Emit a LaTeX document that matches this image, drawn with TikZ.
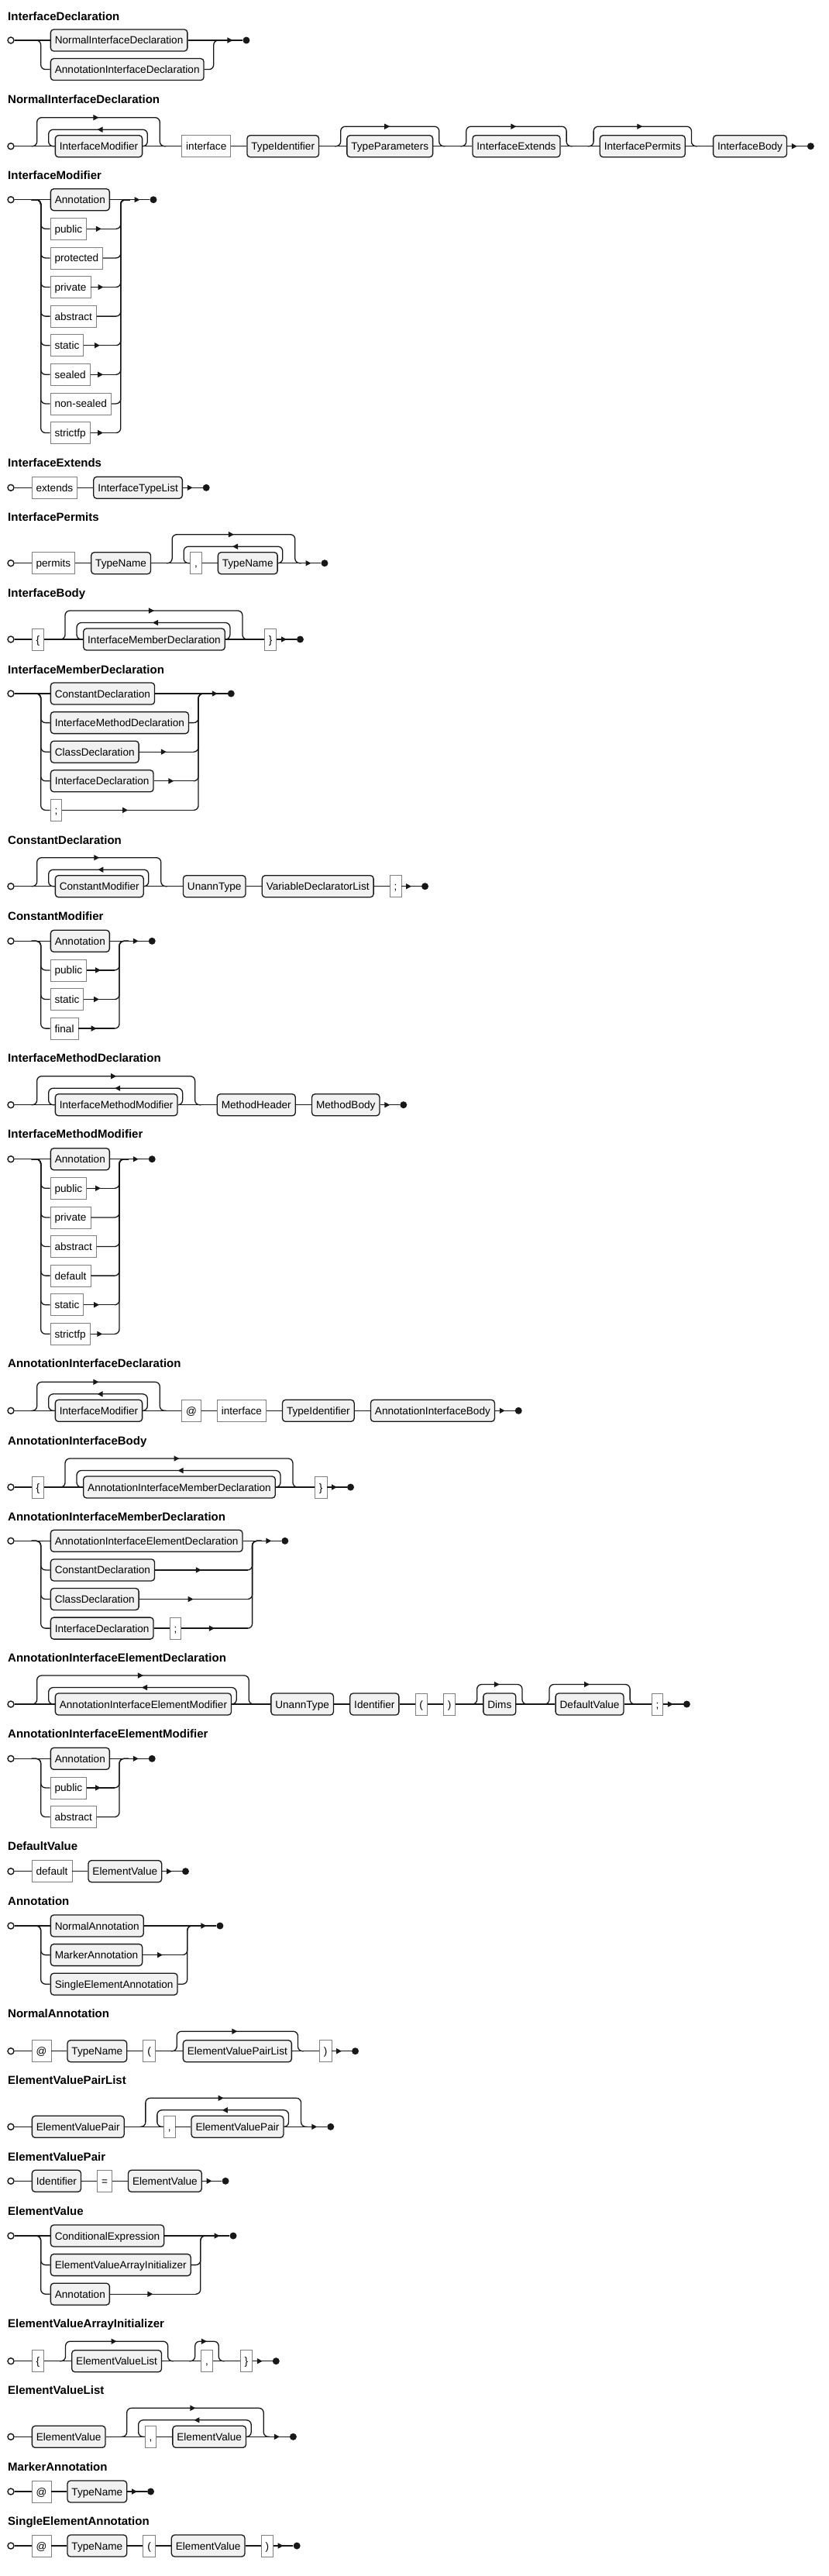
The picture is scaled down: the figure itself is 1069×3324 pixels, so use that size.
\documentclass[tikz,border=0pt]{standalone}
\usepackage{fontspec}
\setmainfont{Liberation Sans}
\usetikzlibrary{positioning,arrows.meta,decorations.markings}

\definecolor{linec}{HTML}{181818}
\definecolor{ntfill}{HTML}{F1F1F1}
\definecolor{tmline}{HTML}{808080}

\tikzset{
  nt/.style={draw=linec, fill=ntfill, rounded corners=4pt, line width=1.3pt,
    minimum height=28pt, inner xsep=5.5pt, inner ysep=0pt,
    text height=12pt, text depth=2pt, font=\fontsize{13.6pt}{16pt}\selectfont},
  tm/.style={nt, draw=tmline, fill=white, sharp corners, line width=0.8pt},
  wire/.style={color=linec, line width=1.3pt, rounded corners=6pt},
  midarrow/.style={postaction={decorate}, decoration={markings,
    mark=at position 0.5 with {\pgfsetcornersarced{\pgfpointorigin}\arrow{Triangle[length=7pt,width=7pt]}}}},
  sc/.style={circle, draw=linec, fill=white, line width=1.4pt, minimum size=8pt, inner sep=0pt},
  ec/.style={circle, fill=linec, minimum size=9pt, inner sep=0pt},
  ttl/.style={anchor=base west, inner sep=0pt, font=\bfseries\fontsize{15pt}{18pt}\selectfont}
}

% choice branch: from split #1 down into box #2
\newcommand{\chin}[2]{\draw[wire] (#1) -| ([xshift=-12pt]#2.west) -- (#2.west);}
% choice branch: from box #2 back up to join #1
\newcommand{\chout}[2]{\draw[wire] (#2.east) -| ([xshift=-12pt]#1) -- (#1);}
% same, with an arrow on the way
\newcommand{\choutarr}[2]{%
  \draw[wire, midarrow] (#2.east) -- ([xshift=-18pt]#2.east -| #1);
  \draw[wire] ([xshift=-18pt]#2.east -| #1) -| ([xshift=-12pt]#1) -- (#1);}
% optional part #1..#2
\newcommand{\optover}[2]{%
  \draw[wire, midarrow] ([xshift=-15pt]#1.west) -- ++(7.5,0) -- ++(0,25.5)
    -| ([xshift=7.5pt]#2.east) -- ++(7.5,0);}
% zero or more of #1..#2
\newcommand{\loopover}[2]{%
  \draw[wire, midarrow] ([xshift=-30pt]#1.west) -- ++(7,0) -- ++(0,37)
    -| ([xshift=22pt]#2.east) -- ++(8,0);
  \draw[wire, midarrow] (#2.east) -- ++(6,0) -- ++(0,21.5)
    -| ([xshift=-8pt]#1.west) -- (#1.west);}

\begin{document}
\begin{tikzpicture}[x=1pt,y=1pt]
  \useasboundingbox (0,0) rectangle (1069,-3324);

  % InterfaceDeclaration
  \node[ttl] (idT) at (10,-26.1) {InterfaceDeclaration};
  \node[sc] (idS) at (14,-52) {};
  \node[nt, right=46pt of idS] (ida) {NormalInterfaceDeclaration};
  \node[nt, anchor=west] (idb) at ([yshift=-37.6pt]ida.west) {AnnotationInterfaceDeclaration};
  \coordinate (idP) at ([xshift=-24pt]ida.west);
  \coordinate (idJ) at ([xshift=24pt]idb.east |- ida.east);
  \node[ec, right=25.5pt of idJ] (idE) {};
  \draw[wire] (idS) -- (ida) -- (idJ);
  \draw[wire, midarrow] (idJ) -- (idE);
  \chin{idP}{idb} \chout{idJ}{idb}

  % NormalInterfaceDeclaration
  \node[ttl] (nidT) at (10,-133.1) {NormalInterfaceDeclaration};
  \node[sc] (nidS) at (14,-188.7) {};
  \node[nt, right=52pt of nidS] (nida) {InterfaceModifier};
  \node[tm, right=50pt of nida] (nidb) {interface};
  \node[nt, right=20pt of nidb] (nidc) {TypeIdentifier};
  \node[nt, right=35pt of nidc] (nidd) {TypeParameters};
  \node[nt, right=50pt of nidd] (nide) {InterfaceExtends};
  \node[nt, right=50pt of nide] (nidf) {InterfacePermits};
  \node[nt, right=35pt of nidf] (nidg) {InterfaceBody};
  \node[ec, right=25.5pt of nidg] (nidE) {};
  \draw[wire] (nidS) -- (nida) -- (nidb) -- (nidc) -- (nidd) -- (nide) -- (nidf) -- (nidg);
  \draw[wire, midarrow] (nidg) -- (nidE);
  \loopover{nida}{nida}
  \optover{nidd}{nidd} \optover{nide}{nide} \optover{nidf}{nidf}

  % InterfaceModifier
  \node[ttl] (imT) at (10,-231.4) {InterfaceModifier};
  \node[sc] (imS) at (14,-257.7) {};
  \node[nt, right=46pt of imS] (ima) {Annotation};
  \node[tm, anchor=west] (imb) at ([yshift=-37.6pt]ima.west) {public};
  \node[tm, anchor=west] (imc) at ([yshift=-37.6pt]imb.west) {protected};
  \node[tm, anchor=west] (imd) at ([yshift=-37.6pt]imc.west) {private};
  \node[tm, anchor=west] (ime) at ([yshift=-37.6pt]imd.west) {abstract};
  \node[tm, anchor=west] (imf) at ([yshift=-37.6pt]ime.west) {static};
  \node[tm, anchor=west] (img) at ([yshift=-37.6pt]imf.west) {sealed};
  \node[tm, anchor=west] (imh) at ([yshift=-37.6pt]img.west) {non-sealed};
  \node[tm, anchor=west] (imi) at ([yshift=-37.6pt]imh.west) {strictfp};
  \coordinate (imP) at ([xshift=-24pt]ima.west);
  \coordinate (imJ) at ([xshift=24pt]imh.east |- ima.east);
  \node[ec, right=25.5pt of imJ] (imE) {};
  \draw[wire] (imS) -- (ima) -- (imJ);
  \draw[wire, midarrow] (imJ) -- (imE);
  \chin{imP}{imb} \choutarr{imJ}{imb}
  \chin{imP}{imc} \chout{imJ}{imc}
  \chin{imP}{imd} \choutarr{imJ}{imd}
  \chin{imP}{ime} \chout{imJ}{ime}
  \chin{imP}{imf} \choutarr{imJ}{imf}
  \chin{imP}{img} \choutarr{imJ}{img}
  \chin{imP}{imh} \chout{imJ}{imh}
  \chin{imP}{imi} \choutarr{imJ}{imi}

  % InterfaceExtends
  \node[ttl] (ieT) at (10,-602.1) {InterfaceExtends};
  \node[sc] (ieS) at (14,-629.3) {};
  \node[tm, right=22pt of ieS] (iea) {extends};
  \node[nt, right=20pt of iea] (ieb) {InterfaceTypeList};
  \node[ec, right=25.5pt of ieb] (ieE) {};
  \draw[wire] (ieS) -- (iea) -- (ieb);
  \draw[wire, midarrow] (ieb) -- (ieE);

  % InterfacePermits
  \node[ttl] (ipT) at (10,-672.7) {InterfacePermits};
  \node[sc] (ipS) at (14,-726.7) {};
  \node[tm, right=22pt of ipS] (ipa) {permits};
  \node[nt, right=20pt of ipa] (ipb) {TypeName};
  \node[tm, right=50pt of ipb] (ipc) {,};
  \node[nt, right=20pt of ipc] (ipd) {TypeName};
  \coordinate[right=30pt of ipd] (ipJ);
  \node[ec, right=25.5pt of ipJ] (ipE) {};
  \draw[wire] (ipS) -- (ipa) -- (ipb) -- (ipc) -- (ipd) -- (ipJ);
  \draw[wire, midarrow] (ipJ) -- (ipE);
  \loopover{ipc}{ipd}

  % InterfaceBody
  \node[ttl] (ibT) at (10,-770.4) {InterfaceBody};
  \node[sc] (ibS) at (14,-825) {};
  \node[tm, right=22pt of ibS] (iba) {\{};
  \node[nt, right=50pt of iba] (ibb) {InterfaceMemberDeclaration};
  \node[tm, right=50pt of ibb] (ibc) {\}};
  \node[ec, right=25.5pt of ibc] (ibE) {};
  \draw[wire] (ibS) -- (iba) -- (ibb) -- (ibc);
  \draw[wire, midarrow] (ibc) -- (ibE);
  \loopover{ibb}{ibb}

  % InterfaceMemberDeclaration
  \node[ttl] (imdT) at (10,-869.4) {InterfaceMemberDeclaration};
  \node[sc] (imdS) at (14,-895) {};
  \node[nt, right=46pt of imdS] (imda) {ConstantDeclaration};
  \node[nt, anchor=west] (imdb) at ([yshift=-37.6pt]imda.west) {InterfaceMethodDeclaration};
  \node[nt, anchor=west] (imdc) at ([yshift=-37.6pt]imdb.west) {ClassDeclaration};
  \node[nt, anchor=west] (imdd) at ([yshift=-37.6pt]imdc.west) {InterfaceDeclaration};
  \node[tm, anchor=west] (imde) at ([yshift=-37.6pt]imdd.west) {;};
  \coordinate (imdP) at ([xshift=-24pt]imda.west);
  \coordinate (imdJ) at ([xshift=24pt]imdb.east |- imda.east);
  \node[ec, right=25.5pt of imdJ] (imdE) {};
  \draw[wire] (imdS) -- (imda) -- (imdJ);
  \draw[wire, midarrow] (imdJ) -- (imdE);
  \chin{imdP}{imdb} \chout{imdJ}{imdb}
  \chin{imdP}{imdc} \choutarr{imdJ}{imdc}
  \chin{imdP}{imdd} \choutarr{imdJ}{imdd}
  \chin{imdP}{imde} \choutarr{imdJ}{imde}

  % ConstantDeclaration
  \node[ttl] (cdT) at (10,-1089.4) {ConstantDeclaration};
  \node[sc] (cdS) at (14,-1143.7) {};
  \node[nt, right=52pt of cdS] (cda) {ConstantModifier};
  \node[nt, right=50pt of cda] (cdb) {UnannType};
  \node[nt, right=20pt of cdb] (cdc) {VariableDeclaratorList};
  \node[tm, right=20pt of cdc] (cdd) {;};
  \node[ec, right=25.5pt of cdd] (cdE) {};
  \draw[wire] (cdS) -- (cda) -- (cdb) -- (cdc) -- (cdd);
  \draw[wire, midarrow] (cdd) -- (cdE);
  \loopover{cda}{cda}

  % ConstantModifier
  \node[ttl] (cmT) at (10,-1187.1) {ConstantModifier};
  \node[sc] (cmS) at (14,-1214.3) {};
  \node[nt, right=46pt of cmS] (cma) {Annotation};
  \node[tm, anchor=west] (cmb) at ([yshift=-37.6pt]cma.west) {public};
  \node[tm, anchor=west] (cmc) at ([yshift=-37.6pt]cmb.west) {static};
  \node[tm, anchor=west] (cmd) at ([yshift=-37.6pt]cmc.west) {final};
  \coordinate (cmP) at ([xshift=-24pt]cma.west);
  \coordinate (cmJ) at ([xshift=24pt]cma.east);
  \node[ec, right=25.5pt of cmJ] (cmE) {};
  \draw[wire] (cmS) -- (cma) -- (cmJ);
  \draw[wire, midarrow] (cmJ) -- (cmE);
  \chin{cmP}{cmb} \choutarr{cmJ}{cmb}
  \chin{cmP}{cmc} \choutarr{cmJ}{cmc}
  \chin{cmP}{cmd} \choutarr{cmJ}{cmd}

  % InterfaceMethodDeclaration
  \node[ttl] (mdT) at (10,-1370.4) {InterfaceMethodDeclaration};
  \node[sc] (mdS) at (14,-1425.7) {};
  \node[nt, right=52pt of mdS] (mda) {InterfaceMethodModifier};
  \node[nt, right=50pt of mda] (mdb) {MethodHeader};
  \node[nt, right=20pt of mdb] (mdc) {MethodBody};
  \node[ec, right=25.5pt of mdc] (mdE) {};
  \draw[wire] (mdS) -- (mda) -- (mdb) -- (mdc);
  \draw[wire, midarrow] (mdc) -- (mdE);
  \loopover{mda}{mda}

  % InterfaceMethodModifier
  \node[ttl] (mmT) at (10,-1468.7) {InterfaceMethodModifier};
  \node[sc] (mmS) at (14,-1495.7) {};
  \node[nt, right=46pt of mmS] (mma) {Annotation};
  \node[tm, anchor=west] (mmb) at ([yshift=-37.6pt]mma.west) {public};
  \node[tm, anchor=west] (mmc) at ([yshift=-37.6pt]mmb.west) {private};
  \node[tm, anchor=west] (mmd) at ([yshift=-37.6pt]mmc.west) {abstract};
  \node[tm, anchor=west] (mme) at ([yshift=-37.6pt]mmd.west) {default};
  \node[tm, anchor=west] (mmf) at ([yshift=-37.6pt]mme.west) {static};
  \node[tm, anchor=west] (mmg) at ([yshift=-37.6pt]mmf.west) {strictfp};
  \coordinate (mmP) at ([xshift=-24pt]mma.west);
  \coordinate (mmJ) at ([xshift=24pt]mma.east);
  \node[ec, right=25.5pt of mmJ] (mmE) {};
  \draw[wire] (mmS) -- (mma) -- (mmJ);
  \draw[wire, midarrow] (mmJ) -- (mmE);
  \chin{mmP}{mmb} \choutarr{mmJ}{mmb}
  \chin{mmP}{mmc} \chout{mmJ}{mmc}
  \chin{mmP}{mmd} \chout{mmJ}{mmd}
  \chin{mmP}{mme} \chout{mmJ}{mme}
  \chin{mmP}{mmf} \choutarr{mmJ}{mmf}
  \chin{mmP}{mmg} \choutarr{mmJ}{mmg}

  % AnnotationInterfaceDeclaration
  \node[ttl] (aidT) at (10,-1764.7) {AnnotationInterfaceDeclaration};
  \node[sc] (aidS) at (14,-1820.3) {};
  \node[nt, right=52pt of aidS] (aida) {InterfaceModifier};
  \node[tm, right=50pt of aida] (aidb) {@};
  \node[tm, right=20pt of aidb] (aidc) {interface};
  \node[nt, right=20pt of aidc] (aidd) {TypeIdentifier};
  \node[nt, right=20pt of aidd] (aide) {AnnotationInterfaceBody};
  \node[ec, right=25.5pt of aide] (aidE) {};
  \draw[wire] (aidS) -- (aida) -- (aidb) -- (aidc) -- (aidd) -- (aide);
  \draw[wire, midarrow] (aide) -- (aidE);
  \loopover{aida}{aida}

  % AnnotationInterfaceBody
  \node[ttl] (aibT) at (10,-1864.4) {AnnotationInterfaceBody};
  \node[sc] (aibS) at (14,-1919) {};
  \node[tm, right=22pt of aibS] (aiba) {\{};
  \node[nt, right=50pt of aiba] (aibb) {AnnotationInterfaceMemberDeclaration};
  \node[tm, right=50pt of aibb] (aibc) {\}};
  \node[ec, right=25.5pt of aibc] (aibE) {};
  \draw[wire] (aibS) -- (aiba) -- (aibb) -- (aibc);
  \draw[wire, midarrow] (aibc) -- (aibE);
  \loopover{aibb}{aibb}

  % AnnotationInterfaceMemberDeclaration
  \node[ttl] (aimT) at (10,-1962.1) {AnnotationInterfaceMemberDeclaration};
  \node[sc] (aimS) at (14,-1988.3) {};
  \node[nt, right=46pt of aimS] (aima) {AnnotationInterfaceElementDeclaration};
  \node[nt, anchor=west] (aimb) at ([yshift=-37.6pt]aima.west) {ConstantDeclaration};
  \node[nt, anchor=west] (aimc) at ([yshift=-37.6pt]aimb.west) {ClassDeclaration};
  \node[nt, anchor=west] (aimd) at ([yshift=-37.6pt]aimc.west) {InterfaceDeclaration};
  \node[tm, right=20pt of aimd] (aime) {;};
  \coordinate (aimP) at ([xshift=-24pt]aima.west);
  \coordinate (aimJ) at ([xshift=24pt]aima.east);
  \node[ec, right=25.5pt of aimJ] (aimE) {};
  \draw[wire] (aimS) -- (aima) -- (aimJ);
  \draw[wire, midarrow] (aimJ) -- (aimE);
  \chin{aimP}{aimb} \choutarr{aimJ}{aimb}
  \chin{aimP}{aimc} \choutarr{aimJ}{aimc}
  \chin{aimP}{aimd} \draw[wire] (aimd) -- (aime); \choutarr{aimJ}{aime}

  % AnnotationInterfaceElementDeclaration
  \node[ttl] (aedT) at (10,-2144.7) {AnnotationInterfaceElementDeclaration};
  \node[sc] (aedS) at (14,-2199) {};
  \node[nt, right=52pt of aedS] (aeda) {AnnotationInterfaceElementModifier};
  \node[nt, right=50pt of aeda] (aedb) {UnannType};
  \node[nt, right=20pt of aedb] (aedc) {Identifier};
  \node[tm, right=20pt of aedc] (aedd) {(};
  \node[tm, right=20pt of aedd] (aede) {)};
  \node[nt, right=35pt of aede] (aedf) {Dims};
  \node[nt, right=50pt of aedf] (aedg) {DefaultValue};
  \node[tm, right=35pt of aedg] (aedh) {;};
  \node[ec, right=25.5pt of aedh] (aedE) {};
  \draw[wire] (aedS) -- (aeda) -- (aedb) -- (aedc) -- (aedd) -- (aede) -- (aedf) -- (aedg) -- (aedh);
  \draw[wire, midarrow] (aedh) -- (aedE);
  \loopover{aeda}{aeda}
  \optover{aedf}{aedf} \optover{aedg}{aedg}

  % AnnotationInterfaceElementModifier
  \node[ttl] (aemT) at (10,-2242.7) {AnnotationInterfaceElementModifier};
  \node[sc] (aemS) at (14,-2269.3) {};
  \node[nt, right=46pt of aemS] (aema) {Annotation};
  \node[tm, anchor=west] (aemb) at ([yshift=-37.6pt]aema.west) {public};
  \node[tm, anchor=west] (aemc) at ([yshift=-37.6pt]aemb.west) {abstract};
  \coordinate (aemP) at ([xshift=-24pt]aema.west);
  \coordinate (aemJ) at ([xshift=24pt]aema.east);
  \node[ec, right=25.5pt of aemJ] (aemE) {};
  \draw[wire] (aemS) -- (aema) -- (aemJ);
  \draw[wire, midarrow] (aemJ) -- (aemE);
  \chin{aemP}{aemb} \choutarr{aemJ}{aemb}
  \chin{aemP}{aemc} \chout{aemJ}{aemc}

  % DefaultValue
  \node[ttl] (dvT) at (10,-2387.7) {DefaultValue};
  \node[sc] (dvS) at (14,-2414.7) {};
  \node[tm, right=22pt of dvS] (dva) {default};
  \node[nt, right=20pt of dva] (dvb) {ElementValue};
  \node[ec, right=25.5pt of dvb] (dvE) {};
  \draw[wire] (dvS) -- (dva) -- (dvb);
  \draw[wire, midarrow] (dvb) -- (dvE);

  % Annotation
  \node[ttl] (anT) at (10,-2458.1) {Annotation};
  \node[sc] (anS) at (14,-2485) {};
  \node[nt, right=46pt of anS] (ana) {NormalAnnotation};
  \node[nt, anchor=west] (anb) at ([yshift=-37.6pt]ana.west) {MarkerAnnotation};
  \node[nt, anchor=west] (anc) at ([yshift=-37.6pt]anb.west) {SingleElementAnnotation};
  \coordinate (anP) at ([xshift=-24pt]ana.west);
  \coordinate (anJ) at ([xshift=24pt]anc.east |- ana.east);
  \node[ec, right=25.5pt of anJ] (anE) {};
  \draw[wire] (anS) -- (ana) -- (anJ);
  \draw[wire, midarrow] (anJ) -- (anE);
  \chin{anP}{anb} \choutarr{anJ}{anb}
  \chin{anP}{anc} \chout{anJ}{anc}

  % NormalAnnotation
  \node[ttl] (naT) at (10,-2603.7) {NormalAnnotation};
  \node[sc] (naS) at (14,-2646.7) {};
  \node[tm, right=22pt of naS] (naa) {@};
  \node[nt, right=20pt of naa] (nab) {TypeName};
  \node[tm, right=20pt of nab] (nac) {(};
  \node[nt, right=35pt of nac] (nad) {ElementValuePairList};
  \node[tm, right=35pt of nad] (nae) {)};
  \node[ec, right=25.5pt of nae] (naE) {};
  \draw[wire] (naS) -- (naa) -- (nab) -- (nac) -- (nad) -- (nae);
  \draw[wire, midarrow] (nae) -- (naE);
  \optover{nad}{nad}

  % ElementValuePairList
  \node[ttl] (vplT) at (10,-2689.4) {ElementValuePairList};
  \node[sc] (vplS) at (14,-2744.3) {};
  \node[nt, right=22pt of vplS] (vpla) {ElementValuePair};
  \node[tm, right=50pt of vpla] (vplb) {,};
  \node[nt, right=20pt of vplb] (vplc) {ElementValuePair};
  \coordinate[right=30pt of vplc] (vplJ);
  \node[ec, right=25.5pt of vplJ] (vplE) {};
  \draw[wire] (vplS) -- (vpla) -- (vplb) -- (vplc) -- (vplJ);
  \draw[wire, midarrow] (vplJ) -- (vplE);
  \loopover{vplb}{vplc}

  % ElementValuePair
  \node[ttl] (vpT) at (10,-2788.1) {ElementValuePair};
  \node[sc] (vpS) at (14,-2814.3) {};
  \node[nt, right=22pt of vpS] (vpa) {Identifier};
  \node[tm, right=20pt of vpa] (vpb) {=};
  \node[nt, right=20pt of vpb] (vpc) {ElementValue};
  \node[ec, right=25.5pt of vpc] (vpE) {};
  \draw[wire] (vpS) -- (vpa) -- (vpb) -- (vpc);
  \draw[wire, midarrow] (vpc) -- (vpE);

  % ElementValue
  \node[ttl] (evT) at (10,-2858.4) {ElementValue};
  \node[sc] (evS) at (14,-2885) {};
  \node[nt, right=46pt of evS] (eva) {ConditionalExpression};
  \node[nt, anchor=west] (evb) at ([yshift=-37.6pt]eva.west) {ElementValueArrayInitializer};
  \node[nt, anchor=west] (evc) at ([yshift=-37.6pt]evb.west) {Annotation};
  \coordinate (evP) at ([xshift=-24pt]eva.west);
  \coordinate (evJ) at ([xshift=24pt]evb.east |- eva.east);
  \node[ec, right=25.5pt of evJ] (evE) {};
  \draw[wire] (evS) -- (eva) -- (evJ);
  \draw[wire, midarrow] (evJ) -- (evE);
  \chin{evP}{evb} \chout{evJ}{evb}
  \chin{evP}{evc} \choutarr{evJ}{evc}

  % ElementValueArrayInitializer
  \node[ttl] (vaiT) at (10,-3003.7) {ElementValueArrayInitializer};
  \node[sc] (vaiS) at (14,-3046.7) {};
  \node[tm, right=22pt of vaiS] (vaia) {\{};
  \node[nt, right=35pt of vaia] (vaib) {ElementValueList};
  \node[tm, right=50pt of vaib] (vaic) {,};
  \node[tm, right=35pt of vaic] (vaid) {\}};
  \node[ec, right=25.5pt of vaid] (vaiE) {};
  \draw[wire] (vaiS) -- (vaia) -- (vaib) -- (vaic) -- (vaid);
  \draw[wire, midarrow] (vaid) -- (vaiE);
  \optover{vaib}{vaib} \optover{vaic}{vaic}

  % ElementValueList
  \node[ttl] (vlT) at (10,-3089.4) {ElementValueList};
  \node[sc] (vlS) at (14,-3144.3) {};
  \node[nt, right=22pt of vlS] (vla) {ElementValue};
  \node[tm, right=50pt of vla] (vlb) {,};
  \node[nt, right=20pt of vlb] (vlc) {ElementValue};
  \coordinate[right=30pt of vlc] (vlJ);
  \node[ec, right=25.5pt of vlJ] (vlE) {};
  \draw[wire] (vlS) -- (vla) -- (vlb) -- (vlc) -- (vlJ);
  \draw[wire, midarrow] (vlJ) -- (vlE);
  \loopover{vlb}{vlc}

  % MarkerAnnotation
  \node[ttl] (maT) at (10,-3188.7) {MarkerAnnotation};
  \node[sc] (maS) at (14,-3215) {};
  \node[tm, right=22pt of maS] (maa) {@};
  \node[nt, right=20pt of maa] (mab) {TypeName};
  \node[ec, right=25.5pt of mab] (maE) {};
  \draw[wire] (maS) -- (maa) -- (mab);
  \draw[wire, midarrow] (mab) -- (maE);

  % SingleElementAnnotation
  \node[ttl] (saT) at (10,-3258.7) {SingleElementAnnotation};
  \node[sc] (saS) at (14,-3285) {};
  \node[tm, right=22pt of saS] (saa) {@};
  \node[nt, right=20pt of saa] (sab) {TypeName};
  \node[tm, right=20pt of sab] (sac) {(};
  \node[nt, right=20pt of sac] (sad) {ElementValue};
  \node[tm, right=20pt of sad] (sae) {)};
  \node[ec, right=25.5pt of sae] (saE) {};
  \draw[wire] (saS) -- (saa) -- (sab) -- (sac) -- (sad) -- (sae);
  \draw[wire, midarrow] (sae) -- (saE);
\end{tikzpicture}
\end{document}
